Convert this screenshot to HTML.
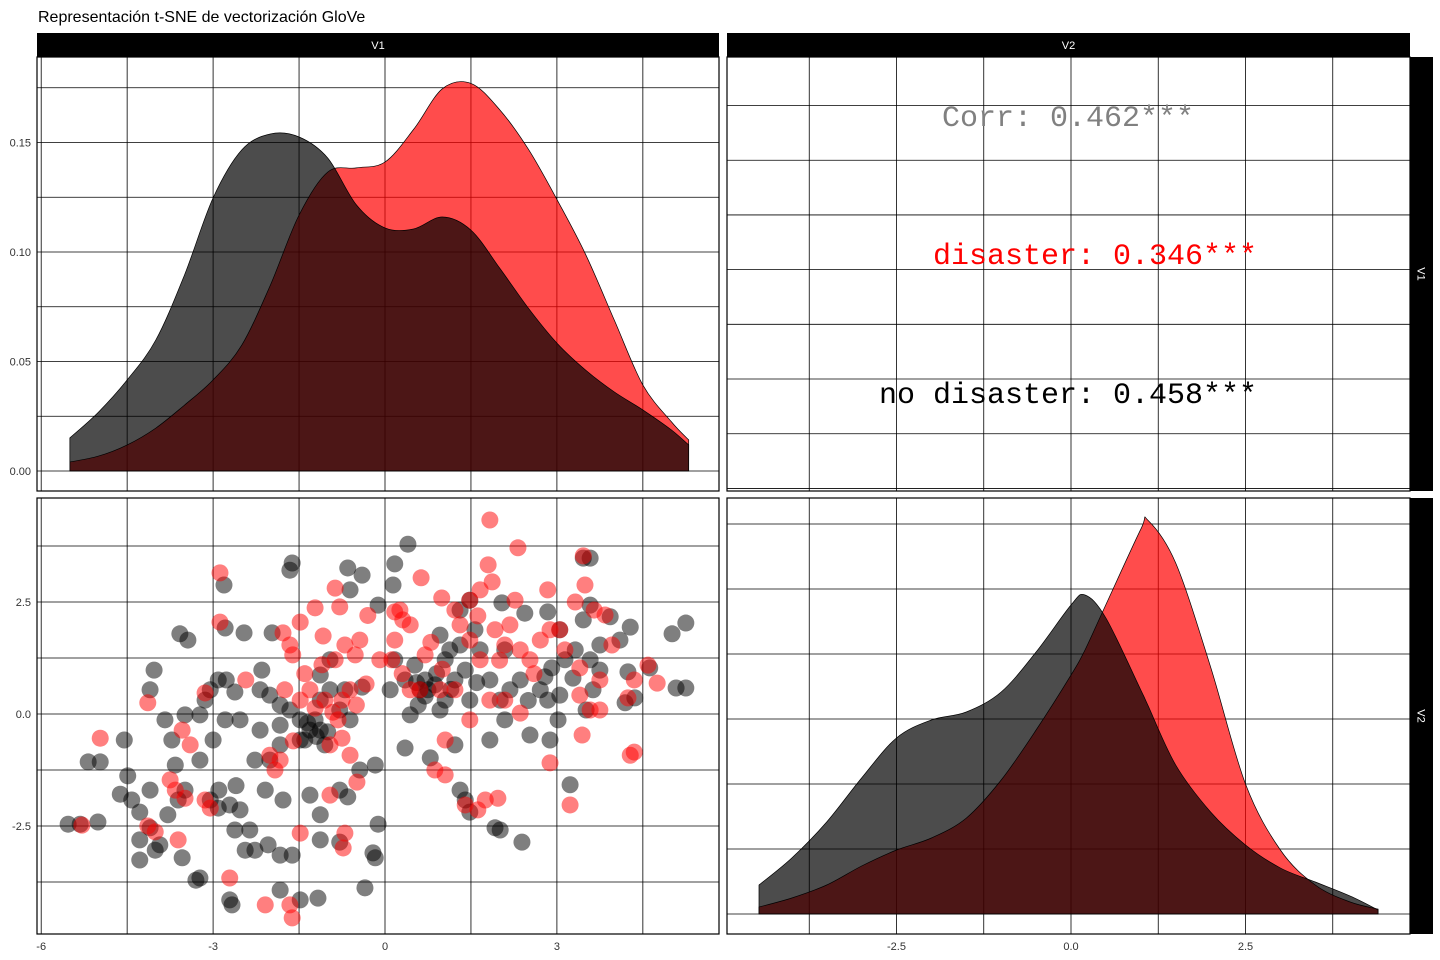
<!DOCTYPE html>
<html><head><meta charset="utf-8"><style>
html,body{margin:0;padding:0;background:#fff;}
svg{display:block;font-family:"Liberation Sans",sans-serif;}
</style></head><body>
<svg id="chart" width="1440" height="960" viewBox="0 0 1440 960">
<text x="38" y="22" font-size="16" fill="#000">Representación t-SNE de vectorización GloVe</text>
<g id="layer"></g>
</svg>
<script>
// ---- data ----
const v1Grid = [-5.5,-5,-4.5,-4,-3.5,-3,-2.5,-2,-1.5,-1,-0.5,0,0.5,1,1.5,2,2.5,3,3.5,4,4.5,5,5.3];
const v1DensNoDisaster = [0.0151,0.0269,0.0416,0.0598,0.0895,0.1247,0.1466,0.1539,0.1525,0.1429,0.1215,0.1110,0.1105,0.1160,0.1100,0.0927,0.0744,0.0584,0.0461,0.0361,0.0279,0.0187,0.0119];
const v1DensDisaster = [0.0041,0.0068,0.0119,0.0196,0.0301,0.0416,0.0575,0.0849,0.1169,0.1365,0.1384,0.1411,0.1560,0.1745,0.1770,0.1650,0.1470,0.1240,0.0990,0.0690,0.0393,0.0224,0.0142];
const v2Grid = [-4.47,-4,-3.5,-3,-2.5,-2,-1.5,-1,-0.5,0,0.2,0.5,1,1.1,1.5,2,2.5,3,3.5,4,4.4];
const v2DensNoDisaster = [0.0223,0.0431,0.0708,0.1046,0.1354,0.1492,0.1554,0.1708,0.2015,0.2377,0.2454,0.2277,0.1723,0.1608,0.1146,0.0785,0.0531,0.0354,0.0246,0.0138,0.0031];
const v2DensDisaster = [0.0054,0.0123,0.0223,0.0369,0.0492,0.0585,0.0738,0.1031,0.1415,0.1838,0.2031,0.2380,0.2960,0.3030,0.2700,0.1900,0.1000,0.0492,0.0223,0.0092,0.0038];
const xTicksV1 = [-6,-3,0,3];
const yTicksDens = [0,0.05,0.10,0.15];
const yTickLabelsDens = ["0.00","0.05","0.10","0.15"];
const yTicksV2 = [-2.5,0,2.5];
const yTickLabelsV2 = ["-2.5","0.0","2.5"];
const xTicksV2 = [-2.5,0,2.5];
const xTickLabelsV2 = ["-2.5","0.0","2.5"];
const corrLabels = ["Corr: 0.462***","disaster: 0.346***","no disaster: 0.458***"];
const noDisasterPts = [[-5.53,-2.46],[-5.32,-2.46],[-5.01,-2.41],[-5.18,-1.07],[-4.97,-1.07],[-4.55,-0.58],[-4.49,-1.38],[-4.62,-1.79],[-4.42,-1.92],[-4.10,-1.70],[-4.28,-2.19],[-4.10,-2.54],[-4.28,-2.81],[-4.01,-3.04],[-4.28,-3.26],[-3.93,-2.92],[-3.79,-2.25],[-3.61,-1.92],[-3.49,-1.70],[-3.66,-1.14],[-3.72,-0.58],[-3.49,-0.02],[-3.23,-0.02],[-3.14,0.31],[-3.05,0.54],[-2.91,0.76],[-2.77,0.76],[-2.62,0.49],[-2.53,-0.13],[-2.79,-0.13],[-3.00,-0.58],[-3.23,-1.03],[-3.05,-1.92],[-2.91,-2.10],[-2.71,-2.03],[-2.53,-2.14],[-2.62,-2.59],[-2.36,-2.59],[-2.44,-3.04],[-2.27,-3.04],[-2.04,-2.92],[-1.83,-3.15],[-1.62,-3.15],[-1.83,-3.93],[-1.48,-4.15],[-1.17,-4.11],[-2.71,-4.15],[-2.67,-4.26],[-3.30,-3.71],[-3.23,-3.66],[-3.54,-3.21],[-3.84,-0.13],[-4.10,0.54],[-4.03,0.98],[-3.58,1.79],[-3.44,1.65],[-2.79,1.92],[-2.81,2.88],[-2.46,1.81],[-2.15,0.98],[-1.97,1.81],[-2.18,0.54],[-2.01,0.42],[-1.83,0.20],[-1.66,0.09],[-1.48,-0.13],[-1.31,-0.36],[-1.13,-0.36],[-1.40,-0.58],[-1.83,-0.69],[-2.01,-1.03],[-2.18,-0.36],[-2.27,-1.03],[-2.09,-1.70],[-1.78,-1.92],[-1.31,-1.81],[-1.13,-2.25],[-0.79,-1.70],[-0.65,-1.85],[-0.44,-1.25],[-0.17,-1.14],[-0.12,-2.46],[-0.21,-3.10],[-0.17,-3.21],[-0.35,-3.88],[-1.13,-2.81],[-0.79,-2.86],[-1.66,3.21],[-1.62,3.37],[-0.65,3.26],[-0.40,3.10],[-0.61,2.77],[0.14,2.88],[0.17,3.35],[0.40,3.79],[-0.12,2.43],[-0.96,1.21],[-1.13,0.87],[-0.96,0.54],[-0.70,0.54],[-1.13,0.31],[-0.79,0.09],[-0.61,-0.13],[0.17,1.21],[0.09,0.54],[0.35,0.76],[0.44,-0.02],[0.58,0.20],[0.75,0.54],[0.96,0.09],[1.05,1.21],[0.96,1.76],[1.13,1.43],[1.31,1.54],[1.57,1.88],[1.66,1.43],[1.83,0.76],[2.01,0.31],[2.18,0.54],[2.09,1.43],[2.04,2.48],[2.44,2.25],[2.84,2.28],[2.36,0.76],[2.71,0.54],[2.84,0.31],[3.02,-0.13],[2.88,-0.58],[2.53,-0.47],[2.09,-0.13],[1.83,-0.58],[1.22,-0.69],[0.79,-0.98],[0.35,-0.76],[1.31,-1.70],[1.40,-1.92],[1.48,-2.19],[1.92,-2.54],[2.01,-2.59],[2.39,-2.86],[2.79,0.83],[2.91,1.03],[3.14,1.21],[3.32,1.43],[3.58,1.21],[3.75,1.54],[3.75,0.98],[3.63,0.54],[3.51,0.09],[3.28,0.80],[3.93,2.17],[4.10,1.65],[4.28,1.94],[4.24,0.94],[4.36,0.36],[4.19,0.25],[4.62,1.03],[5.01,1.79],[5.25,2.03],[5.08,0.58],[5.25,0.58],[3.23,-1.58],[3.05,0.42],[3.46,2.10],[3.58,2.43],[1.48,2.54],[1.31,2.32],[3.05,1.88],[0.61,0.54],[0.70,0.76],[0.52,1.09],[0.87,0.65],[1.05,0.31],[1.22,0.76],[1.40,0.98],[1.48,0.31],[-1.22,-0.13],[-1.48,-0.58],[-1.05,-0.69],[-1.83,-0.25],[3.58,3.48],[3.46,3.48],[0.70,0.40],[0.90,0.90],[1.15,0.55],[0.55,0.70],[-1.20,-0.50],[-1.35,-0.20],[-1.00,-0.40],[-0.40,0.60],[2.50,0.30],[1.60,0.70],[-2.60,-1.60],[-2.90,-1.70]];
const disasterPts = [[-1.62,-4.55],[-1.66,-4.26],[-2.09,-4.26],[-2.71,-3.66],[-3.05,-2.10],[-3.14,-1.92],[-3.49,-1.88],[-3.66,-1.70],[-3.75,-1.47],[-3.61,-2.81],[-4.14,-2.50],[-4.01,-2.63],[-5.29,-2.48],[-4.97,-0.54],[-4.14,0.25],[-3.54,-0.36],[-3.40,-0.69],[-3.14,0.47],[-2.88,2.05],[-2.88,3.15],[-2.43,0.76],[-2.01,-0.92],[-1.92,-1.25],[-1.83,-1.03],[-1.75,0.54],[-1.61,1.32],[-1.48,2.05],[-1.78,1.81],[-1.66,1.54],[-1.48,0.31],[-1.31,0.54],[-1.22,0.13],[-1.05,0.31],[-0.91,0.04],[-0.75,0.31],[-0.61,0.54],[-0.82,-0.13],[-0.96,-0.69],[-0.75,-0.54],[-0.61,-0.92],[-0.49,-1.52],[-0.96,-1.81],[-1.48,-2.66],[-0.70,-2.66],[-0.73,-2.99],[-1.22,2.37],[-1.08,1.74],[-0.87,2.81],[-0.79,2.39],[-0.87,1.21],[-0.70,1.54],[-0.52,1.32],[-0.44,1.65],[-0.33,0.67],[-0.09,1.21],[0.17,1.65],[0.26,2.32],[0.44,1.99],[0.17,2.28],[0.31,2.10],[0.63,3.04],[0.99,2.59],[1.22,2.32],[1.31,1.99],[1.48,1.65],[1.66,1.21],[1.83,4.33],[1.80,3.33],[1.87,2.95],[1.66,2.77],[1.48,2.54],[1.62,2.19],[1.92,1.88],[2.09,1.54],[2.32,3.71],[2.27,2.54],[2.18,1.99],[2.36,1.43],[2.53,1.21],[2.71,1.65],[2.84,2.77],[2.88,1.88],[3.14,1.43],[3.40,1.03],[3.40,0.42],[3.58,0.09],[3.44,-0.47],[3.05,1.88],[3.32,2.50],[3.49,2.88],[3.65,2.32],[3.84,2.21],[3.96,1.54],[4.35,0.76],[4.59,1.09],[4.75,0.69],[4.28,-0.92],[4.35,-0.85],[4.24,0.36],[3.75,0.09],[3.23,-2.03],[2.88,-1.09],[2.36,0.02],[2.09,0.31],[1.83,0.31],[1.48,-0.13],[1.22,0.54],[0.96,0.54],[0.87,-1.25],[1.05,-1.36],[1.40,-2.03],[1.62,-2.14],[1.75,-1.92],[1.97,-1.88],[1.05,-0.58],[0.61,0.54],[0.70,1.32],[0.12,1.21],[0.44,0.54],[3.46,3.53],[3.75,0.76],[-1.40,0.90],[-1.10,1.10],[-0.30,2.20],[0.80,1.60],[1.00,1.00],[2.00,1.20],[2.60,0.90],[-1.60,-0.60],[-0.50,0.20],[0.30,0.90]];

// ---- scales ----
const NS="http://www.w3.org/2000/svg";
const layer=document.getElementById('layer');
const xV1=v=>385+v*57.3;
const yDensTL=d=>471-d*2190;
const yV2BL=v=>714-v*44.8;
const xV2=v=>1071+v*69.8;
const yDensBR=d=>914-d*1300;
const yV1TR=v=>491-(v+6.07)*36.47;
function mk(tag,attrs,parent){const e=document.createElementNS(NS,tag);for(const k in attrs)e.setAttribute(k,attrs[k]);(parent||layer).appendChild(e);return e;}
function smooth(pts){let d="M"+pts[0][0]+","+pts[0][1];for(let i=0;i<pts.length-1;i++){const p0=pts[Math.max(0,i-1)],p1=pts[i],p2=pts[i+1],p3=pts[Math.min(pts.length-1,i+2)];const c1=[p1[0]+(p2[0]-p0[0])/6,p1[1]+(p2[1]-p0[1])/6],c2=[p2[0]-(p3[0]-p1[0])/6,p2[1]-(p3[1]-p1[1])/6];d+=" C"+c1[0].toFixed(1)+","+c1[1].toFixed(1)+" "+c2[0].toFixed(1)+","+c2[1].toFixed(1)+" "+p2[0].toFixed(1)+","+p2[1].toFixed(1);}return d;}
function clip(id,x,y,w,h){const c=mk('clipPath',{id:id});mk('rect',{x:x,y:y,width:w,height:h},c);}
function strip(x,y,w,h,label,rot,name){const g=mk('g',{});mk('rect',{x:x,y:y,width:w,height:h,fill:'#000'},g);const t=mk('text',{x:x+w/2,y:y+h/2+4,'font-size':11,fill:'#fff','text-anchor':'middle'},g);if(rot){t.setAttribute('transform','rotate(90 '+(x+w/2)+' '+(y+h/2)+')');}t.textContent=label;}
function panel(x,y,w,h,vx,hy,name){const g=mk('g',{'clip-path':'url(#c'+name+')'});clip('c'+name,x,y,w,h);vx.forEach(px=>mk('line',{x1:px,x2:px,y1:y,y2:y+h,stroke:'#000','stroke-width':0.8},g));hy.forEach(py=>mk('line',{x1:x,x2:x+w,y1:py,y2:py,stroke:'#000','stroke-width':0.8},g));return g;}
function border(x,y,w,h){const r=mk('rect',{x:x,y:y,width:w,height:h,fill:'none',stroke:'#000','stroke-width':1.2});}
function range(a,b,s){const r=[];for(let v=a;v<=b+1e-9;v+=s)r.push(v);return r;}
function densArea(xs,ys,fx,fy,fill,name,g){const pts=xs.map((v,i)=>[fx(v),fy(ys[i])]);const d=smooth(pts)+" L"+pts[pts.length-1][0]+","+fy(0)+" L"+pts[0][0]+","+fy(0)+" Z";const p=mk('path',{d:d,fill:fill,stroke:'#000','stroke-width':0.7},g);}
function tickText(x,y,txt,anchor,name){const t=mk('text',{x:x,y:y,'font-size':11,fill:'#333','text-anchor':anchor});t.textContent=txt;}

strip(37,33,682,24,'V1',false,'strip-top-v1');
strip(727,33,683,24,'V2',false,'strip-top-v2');
strip(1410,57,23,434,'V1',true,'strip-right-v1');
strip(1410,498,23,436,'V2',true,'strip-right-v2');

const vxV1=range(-6,6,1.5).map(xV1);
let g1=panel(37,57,682,434,vxV1,range(0,0.2,0.025).map(yDensTL),'density-v1');
densArea(v1Grid,v1DensDisaster,xV1,yDensTL,'rgba(255,0,0,0.7)','density-v1-disaster',g1);
densArea(v1Grid,v1DensNoDisaster,xV1,yDensTL,'rgba(0,0,0,0.7)','density-v1-no-disaster',g1);
border(37,57,682,434);
yTicksDens.forEach((v,i)=>tickText(31,yDensTL(v)+4,yTickLabelsDens[i],'end','y-tick-density'));

const vxV2=range(-5,5,1.25).map(xV2);
panel(727,57,683,434,vxV2,range(-6,6,1.5).map(yV1TR),'corr-panel');
border(727,57,683,434);
const corrPos=[[942,126,'#808080'],[933,264,'#ff0000'],[879,403,'#000']];
corrLabels.forEach((s,i)=>{const t=mk('text',{x:corrPos[i][0],y:corrPos[i][1],'font-size':30,fill:corrPos[i][2],'font-family':'"Liberation Mono",monospace'});t.textContent=s;});

let g3=panel(37,498,682,436,vxV1,range(-5,5,1.25).map(yV2BL),'scatter');
noDisasterPts.forEach(p=>{const c=mk('circle',{cx:xV1(p[0]),cy:yV2BL(p[1]),r:8.5,fill:'rgba(0,0,0,0.5)'},g3);});
disasterPts.forEach(p=>{const c=mk('circle',{cx:xV1(p[0]),cy:yV2BL(p[1]),r:8.5,fill:'rgba(255,0,0,0.5)'},g3);});
border(37,498,682,436);
yTicksV2.forEach((v,i)=>tickText(31,yV2BL(v)+4,yTickLabelsV2[i],'end','y-tick-v2'));
xTicksV1.forEach(v=>tickText(xV1(v),950,String(v),'middle','x-tick-v1'));

let g4=panel(727,498,683,436,vxV2,range(0,0.4,0.05).map(yDensBR),'density-v2');
densArea(v2Grid,v2DensDisaster,xV2,yDensBR,'rgba(255,0,0,0.7)','density-v2-disaster',g4);
densArea(v2Grid,v2DensNoDisaster,xV2,yDensBR,'rgba(0,0,0,0.7)','density-v2-no-disaster',g4);
border(727,498,683,436);
xTicksV2.forEach((v,i)=>tickText(xV2(v),950,xTickLabelsV2[i],'middle','x-tick-v2'));
</script>
</body></html>
